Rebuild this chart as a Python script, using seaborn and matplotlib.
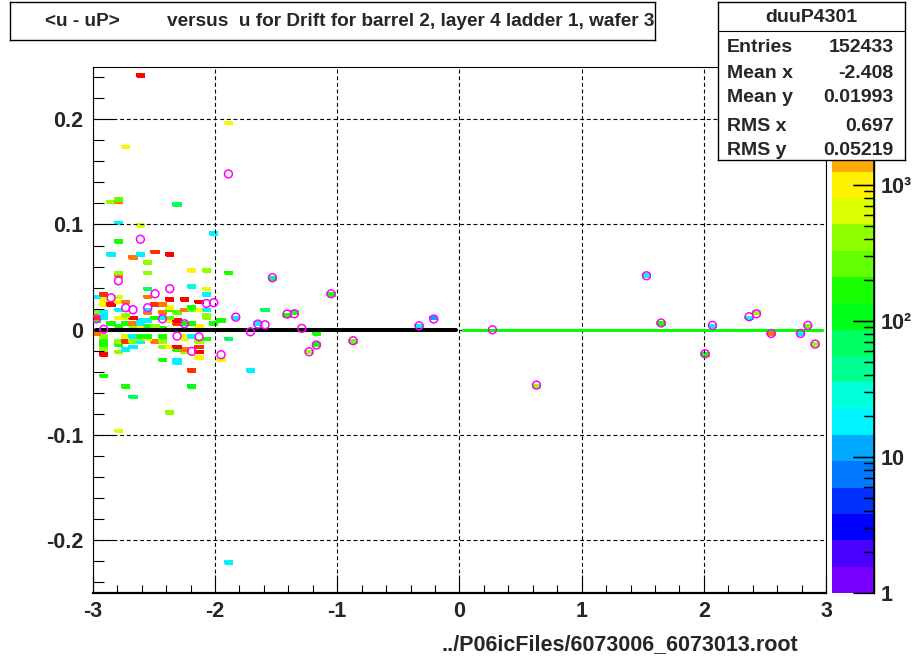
import numpy as np
import pandas as pd
import seaborn as sns
import matplotlib.pyplot as plt
from matplotlib.colors import ListedColormap, LogNorm, hsv_to_rgb
from matplotlib.ticker import MultipleLocator, FixedLocator, LogLocator, NullFormatter, FixedFormatter

# 2D histogram bins: u centre, (u - uP), bin content
bin_u = [-2.61, -1.89, -2.73, -2.85, -2.79, -2.79, -2.31, -2.79, -2.61, -2.01,
         -2.79, -2.85, -2.67, -2.61, -2.49, -2.37, -2.55, -2.79, -2.55, -2.79,
         -2.19, -2.07, -1.89, -1.53, -2.55, -2.19, -2.07, -2.07, -2.55, -2.37,
         -2.25, -2.13, -2.49, -2.37, -2.91, -2.97, -2.91, -2.79, -2.79, -2.73,
         -2.79, -2.85, -2.91, -2.79, -2.55, -2.43, -2.43, -2.37, -2.31, -2.25,
         -2.19, -2.19, -2.13, -2.07, -2.49, -2.43, -2.37, -2.55, -2.55, -2.31,
         -2.31, -2.25, -2.19, -2.13, -2.07, -2.07, -2.01, -1.95, -1.59, -1.83,
         -1.65, -1.41, -1.35, -1.05, -2.97, -2.91, -2.91, -2.91, -2.97, -2.97,
         -2.85, -2.79, -2.79, -2.73, -2.73, -2.73, -2.67, -2.67, -2.67, -2.61,
         -2.61, -2.61, -2.61, -2.55, -2.49, -2.49, -2.43, -2.37,
         -2.97, -2.91, -2.91, -2.91, -2.91, -2.91, -2.91, -2.91, -2.79, -2.79,
         -2.79, -2.73, -2.73, -2.73, -2.73, -2.67, -2.67, -2.67, -2.67, -2.61,
         -2.61, -2.61, -2.55, -2.55, -2.49, -2.43, -2.43, -2.43, -2.43, -2.37,
         -2.31, -2.31, -2.31, -2.31, -2.25, -2.25, -2.25, -2.25, -2.19, -2.19,
         -2.19, -2.07, -2.13, -2.13, -2.13, -2.13, -1.89, -1.95, -1.71, -1.17,
         -2.79, -2.37, -1.89, -1.23, -1.17, -0.87, -0.33, -0.21,
         0.63, 1.53, 1.65, 2.01, 2.07, 2.37, 2.43, 2.55, 2.79, 2.85, 2.91]
bin_v = [0.240, 0.197, 0.174, 0.121, 0.1228, 0.1205, 0.1197, 0.102, 0.098, 0.092,
         0.084, 0.071, 0.068, 0.070, 0.073, 0.070, 0.0636, 0.054, 0.054, 0.0503,
         0.055, 0.055, 0.053, 0.0494, 0.039, 0.041, 0.039, 0.0332, 0.0313, 0.0294,
         0.0294, 0.0266, 0.0247, 0.0218, 0.0332, 0.0323, 0.0294, 0.0323, 0.0301, 0.0256,
         0.0256, 0.0237, 0.0237, 0.0200, 0.0200, 0.0237, 0.0161, 0.0180, 0.0171, 0.0180,
         0.0209, 0.0187, 0.0180, 0.0190, 0.0123, 0.0123, 0.0123, 0.0095, 0.0152, 0.0095,
         0.0070, 0.0057, 0.0057, 0.0047, 0.0133, 0.0108, 0.0066, 0.0076, 0.0180, 0.0123,
         0.0054, 0.0149, 0.0152, 0.0342, 0.0161, 0.0171, 0.0142, 0.0114, 0.0114, 0.0092,
         0.0054, 0.0040, 0.0104, 0.0142, 0.0118, 0.0066, 0.0104, 0.0066, 0.0028, 0.0090,
         0.0066, 0.0035, 0.0012, 0.0047, 0.0047, 0.0022, 0.0022, 0.0076,
         -0.0041, -0.0072, -0.0104, -0.0136, -0.0165, -0.0188, -0.0247, -0.0446, -0.0120, -0.0145,
         -0.0218, -0.0066, -0.0123, -0.0180, -0.0532, -0.0066, -0.0110, -0.0170, -0.0627, -0.0057,
         -0.0100, -0.0123, -0.0072, -0.0095, -0.0114, -0.0072, -0.0123, -0.0170, -0.0294, -0.0161,
         -0.0152, -0.0178, -0.0280, -0.0305, -0.0072, -0.0095, -0.0183, -0.0208, -0.0390, -0.0530,
         -0.0072, -0.0091, -0.0123, -0.0150, -0.0200, -0.0256, -0.0091, -0.0294, -0.0383, -0.0038,
         -0.0952, -0.0788, -0.2206, -0.0209, -0.0145, -0.0104, 0.0038, 0.0102,
         -0.0525, 0.0513, 0.0064, -0.0228, 0.0042, 0.0124, 0.0152, -0.0035, -0.0035, 0.0042, -0.0136]
bin_n = [6000, 1000, 1000, 410, 265, 2500, 70, 20, 650, 20,
         150, 20, 2500, 20, 3900, 6000, 410, 500, 410, 2000,
         1000, 350, 170, 70, 70, 30, 650, 20, 2500, 6000,
         6000, 5500, 3900, 1000, 3900, 20, 1000, 500, 150, 2500,
         1000, 6000, 1000, 20, 20, 2000, 2000, 150, 300, 2000,
         150, 300, 1000, 20, 150, 20, 300, 20, 2000, 6000,
         3900, 110, 150, 1000, 410, 410, 150, 150, 60, 20,
         20, 150, 150, 150, 410, 20, 20, 20, 3900, 150,
         150, 150, 1000, 500, 650, 150, 6000, 2500, 410, 20,
         20, 1000, 4, 150, 410, 300, 150, 1000,
         2500, 410, 150, 150, 410, 410, 6000, 150, 410, 150,
         500, 650, 3900, 20, 150, 20, 410, 20, 60, 150,
         410, 20, 150, 1000, 2500, 150, 410, 410, 150, 1000,
         6000, 150, 20, 20, 1000, 650, 2500, 410, 3900, 110,
         20, 150, 410, 3900, 6000, 1000, 60, 1000, 20, 150,
         650, 410, 20, 410, 150, 300, 20, 12,
         410, 28, 150, 150, 20, 30, 500, 2500, 20, 300, 410]

# profile: mean of (u - uP) per u bin
prof_u = [-2.97, -2.91, -2.85, -2.79, -2.73, -2.67, -2.61, -2.55, -2.49, -2.43,
          -2.37, -2.31, -2.25, -2.19, -2.13, -2.07, -2.01, -1.95, -1.89, -1.83,
          -1.71, -1.65, -1.59, -1.53, -1.41, -1.35, -1.29, -1.23, -1.17, -1.05,
          -0.87, -0.33, -0.21, 0.27, 0.63, 1.53, 1.65, 2.01, 2.07, 2.37,
          2.43, 2.55, 2.79, 2.85, 2.91]
prof_v = [0.0104, 0.0004, 0.0304, 0.0465, 0.0209, 0.0190, 0.0860, 0.0209, 0.0342, 0.0104,
          0.0390, -0.0060, 0.0057, -0.0205, -0.0066, 0.0250, 0.0257, -0.0237, 0.1480, 0.0120,
          -0.0019, 0.0054, 0.0047, 0.0494, 0.0149, 0.0152, 0.0013, -0.0209, -0.0145, 0.0342,
          -0.0104, 0.0038, 0.0102, 0.0000, -0.0525, 0.0513, 0.0064, -0.0228, 0.0042, 0.0124,
          0.0152, -0.0035, -0.0035, 0.0042, -0.0136]

# lines along zero for u < 0 and u > 0
neg_u = [-2.97, -0.03]
neg_v = [0.0, 0.0]
pos_u = [0.03, 2.97]
pos_v = [0.0, 0.0]

title = "<u - uP>         versus  u for Drift for barrel 2, layer 4 ladder 1, wafer 3"
hist_name = "duuP4301"
stat_names = ["Entries", "Mean x", "Mean y", "RMS x", "RMS y"]
stat_values = ["152433", "-2.408", "0.01993", "0.697", "0.05219"]
file_label = "../P06icFiles/6073006_6073013.root"
x_ticks = [-3, -2, -1, 0, 1, 2, 3]
y_ticks = [-0.2, -0.1, 0, 0.1, 0.2]
y_tick_labels = ["-0.2", "-0.1", "0", "0.1", "0.2"]
z_ticks = [1, 10, 100, 1000]
z_tick_labels = ["1", "10", "10\u00b2", "10\u00b3"]
z_max = 7400

sns.set_style("white")
plt.rcParams['font.family'] = ['Liberation Sans', 'DejaVu Sans']
plt.rcParams['font.weight'] = 'bold'
plt.rcParams['axes.unicode_minus'] = False
plt.rcParams['axes.axisbelow'] = False

# ROOT-like rainbow palette with 20 contour levels
lev = ((np.arange(20) + 0.99) * 2.5).astype(int)
hue = 280.0 * (49 - lev) / 49 / 360.0
pal = hsv_to_rgb(np.column_stack([hue, np.ones(20), np.ones(20)]))
cmap = ListedColormap(pal)
norm = LogNorm(vmin=1, vmax=z_max)

fig = plt.figure(figsize=(9.2, 6.6), dpi=100)
ax = fig.add_axes([0.1008, 0.1015, 0.7972, 0.7977])
cbar_rect = [0.904, 0.1015, 0.046, 0.7977]
cax = fig.add_axes(cbar_rect, zorder=-1)

df = pd.DataFrame({"u": bin_u, "v": bin_v, "n": bin_n})
sns.histplot(data=df, x="u", y="v", weights="n", bins=(100, 200),
             binrange=((-3, 3), (-0.25, 0.25)), cmap=cmap,
             edgecolor="face", linewidth=0.35, ax=ax)
mesh = ax.collections[0]
mesh.set_norm(norm)

sns.lineplot(x=neg_u, y=neg_v, color="black", linewidth=2.9, ax=ax, zorder=4)
sns.lineplot(x=pos_u, y=pos_v, color="#00ff00", linewidth=2.2, ax=ax, zorder=4)

pdf = pd.DataFrame({"u": prof_u, "v": prof_v})
sns.scatterplot(data=pdf, x="u", y="v", marker="o", s=32, facecolors="none",
                edgecolor="#ff00ff", linewidth=1.1, ax=ax, zorder=5)

ax.set_xlim(-3, 3)
ax.set_ylim(-0.25, 0.25)
ax.set_xlabel("")
ax.set_ylabel("")
ax.xaxis.set_major_locator(FixedLocator(x_ticks))
ax.xaxis.set_minor_locator(MultipleLocator(0.2))
ax.yaxis.set_major_locator(FixedLocator(y_ticks))
ax.set_yticklabels(y_tick_labels)
ax.yaxis.set_minor_locator(MultipleLocator(0.02))
ax.tick_params(axis="both", which="both", direction="in", color="black", width=0.8,
               labelsize=15.5, top=False, right=False, bottom=True, left=True)
ax.tick_params(axis="x", which="major", length=13, pad=6)
ax.tick_params(axis="x", which="minor", length=6)
ax.tick_params(axis="y", which="major", length=15, pad=7)
ax.tick_params(axis="y", which="minor", length=8)
for lab in ax.get_xticklabels() + ax.get_yticklabels():
    lab.set_fontweight("bold")
ax.grid(True, which="major", color="black", linestyle=(0, (3.5, 2.5)), linewidth=0.8)
ax.set_axisbelow(False)
for side in ["top", "right", "left"]:
    ax.spines[side].set_color("black")
    ax.spines[side].set_linewidth(0.8)
ax.spines["bottom"].set_color("black")
ax.spines["bottom"].set_linewidth(1.6)

# colour scale
cb = fig.colorbar(mesh, cax=cax)
cb.outline.set_visible(False)
cax.tick_params(axis="y", which="both", left=False, right=False, labelleft=False, labelright=False)

# transparent overlay carrying the colour-scale axis
zax = fig.add_axes(cbar_rect, zorder=5)
zax.patch.set_alpha(0)
zax.set_yscale("log")
zax.set_ylim(1, z_max)
zax.set_xlim(0, 1)
zax.set_xticks([])
for side in ["top", "bottom", "left"]:
    zax.spines[side].set_visible(False)
zax.spines["right"].set_visible(True)
zax.spines["right"].set_color("black")
zax.spines["right"].set_linewidth(1.0)
zax.yaxis.tick_right()
zax.yaxis.set_major_locator(FixedLocator(z_ticks))
zax.yaxis.set_major_formatter(FixedFormatter(z_tick_labels))
zax.yaxis.set_minor_locator(LogLocator(base=10, subs=np.arange(2, 10)))
zax.yaxis.set_minor_formatter(NullFormatter())
zax.tick_params(axis="y", which="both", direction="in", right=True, left=False,
                color="black", width=0.9)
zax.tick_params(axis="y", which="major", length=15, pad=5, labelsize=15.5)
zax.tick_params(axis="y", which="minor", length=7)
for lab in zax.get_yticklabels():
    lab.set_fontweight("bold")
# tick marks also drawn as plain segments on the overlay
zax.hlines(z_ticks, 0.5, 1.0, colors="black", linewidth=1.0, zorder=10)
z_minor = [m * 10 ** e for e in range(4) for m in range(2, 10) if m * 10 ** e < z_max]
zax.hlines(z_minor, 0.76, 1.0, colors="black", linewidth=0.9, zorder=10)
zax.axvline(1.0, color="black", linewidth=1.2, zorder=10)

fig.text(798 / 920, 15 / 660, file_label, ha="right", va="center", fontsize=15.5, fontweight="bold")

# title box
tbox = fig.add_axes([10 / 920, (660 - 40) / 660, 645 / 920, 38 / 660])
tbox.set_xticks([])
tbox.set_yticks([])
for s in tbox.spines.values():
    s.set_visible(True)
    s.set_color("black")
    s.set_linewidth(1.0)
tbox.text(35 / 645, 0.5, title, ha="left", va="center", fontsize=13.7, fontweight="bold",
          transform=tbox.transAxes, clip_on=True)

# statistics box
sbox = fig.add_axes([718 / 920, (660 - 160) / 660, 187 / 920, 158 / 660], zorder=10)
sbox.set_facecolor("white")
sbox.set_xticks([])
sbox.set_yticks([])
sbox.set_xlim(0, 1)
sbox.set_ylim(0, 1)
for s in sbox.spines.values():
    s.set_visible(True)
    s.set_color("black")
    s.set_linewidth(1.0)
sbox.text(0.5, 0.90, hist_name, ha="center", va="center", fontsize=14, fontweight="bold")
sbox.axhline(0.815, color="black", linewidth=0.8)
row_y = [0.715, 0.545, 0.395, 0.212, 0.062]
for name, val, yy in zip(stat_names, stat_values, row_y):
    sbox.text(0.048, yy, name, ha="left", va="center", fontsize=14, fontweight="bold")
    sbox.text(0.94, yy, val, ha="right", va="center", fontsize=14, fontweight="bold")

fig.savefig("out.png", dpi=100)
